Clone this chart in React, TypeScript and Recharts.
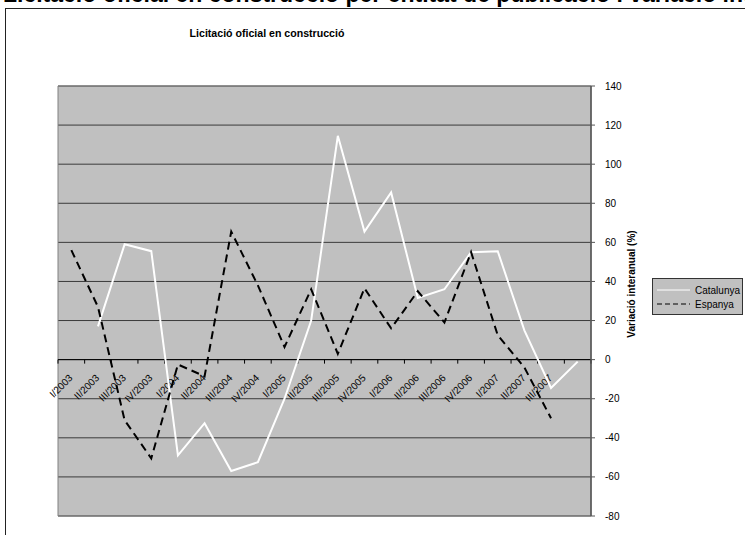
import React from 'react';
import { LineChart, Line, XAxis, YAxis, CartesianGrid, ReferenceLine, ReferenceArea } from 'recharts';

// trimestres (l'últim sense etiqueta a l'eix)
const quarters = [
  'I/2003', 'II/2003', 'III/2003', 'IV/2003',
  'I/2004', 'II/2004', 'III/2004', 'IV/2004',
  'I/2005', 'II/2005', 'III/2005', 'IV/2005',
  'I/2006', 'II/2006', 'III/2006', 'IV/2006',
  'I/2007', 'II/2007', 'III/2007', 'IV/2007',
];
const tickLabels = [
  'I/2003', 'II/2003', 'III/2003', 'IV/2003',
  'I/2004', 'II/2004', 'III/2004', 'IV/2004',
  'I/2005', 'II/2005', 'III/2005', 'IV/2005',
  'I/2006', 'II/2006', 'III/2006', 'IV/2006',
  'I/2007', 'II/2007', 'III/2007', '',
];

const catalunya = [null, 17, 59, 55.5, -49, -32.5, -57, -52.5, -20, 20, 114.5, 65.5, 85.5, 31.5, 36, 55, 55.5, 15, -14.5, -1];
const espanya = [56, 27, -31, -50.5, -2.5, -8.5, 65.5, 38, 6.5, 36, 3, 36.5, 16, 35, 19, 55, 12.5, -4, -30, null];

const yTicks = [-80, -60, -40, -20, 0, 20, 40, 60, 80, 100, 120, 140];

const pageTitle = 'Licitació oficial en construcció per entitat de publicació i variació interanual';
const chartTitle = 'Licitació oficial en construcció';
const yTitle = 'Variació interanual (%)';
const seriesNames = ['Catalunya', 'Espanya'];

const data = quarters.map((q, i) => ({ q, cat: catalunya[i], esp: espanya[i] }));

const FONT = '"Liberation Sans", Arial, Helvetica, sans-serif';

// eix de categories dibuixat sobre la línia del zero
const ZeroAxis = (props: any) => {
  const left = Math.min(props.x1, props.x2);
  const right = Math.max(props.x1, props.x2);
  const y0 = props.y1;
  const n = quarters.length;
  const step = (right - left) / n;
  return (
    <g>
      <line x1={left} y1={y0} x2={right} y2={y0} stroke="#000" strokeWidth={1} />
      {Array.from({ length: n + 1 }).map((_, i) => (
        <line key={'t' + i} x1={left + i * step} x2={left + i * step} y1={y0} y2={y0 + 4} stroke="#000" />
      ))}
      {tickLabels.map((lab, i) => {
        const cx = left + (i + 0.5) * step + 2;
        const ty = y0 + 19;
        return (
          <text key={'l' + i} x={cx} y={ty} textAnchor="end" transform={`rotate(-45 ${cx} ${ty})`}
            fontSize={10} fill="#000" fontFamily={FONT}>
            {lab}
          </text>
        );
      })}
    </g>
  );
};

const YTitle = (props: any) => {
  const { viewBox } = props;
  const cx = viewBox.x + 44;
  const cy = viewBox.y + viewBox.height / 2 - 17;
  return (
    <text x={cx} y={cy} transform={`rotate(-90 ${cx} ${cy})`} textAnchor="middle"
      fontSize={10} fontWeight="bold" fill="#000" fontFamily={FONT}>
      {yTitle}
    </text>
  );
};

export default function App() {
  return (
    <div style={{ position: 'fixed', left: 0, top: 0, width: 745, height: 535, overflow: 'hidden', background: '#fff', fontFamily: FONT }}>
      <div style={{ position: 'absolute', left: 5, top: 8, width: 780, height: 560, border: '1px solid #222', background: '#fff' }} />
      <div style={{ position: 'absolute', left: 0, top: 0 }}>
        <LineChart width={745} height={535} data={data} margin={{ top: 86, right: 94, bottom: 19, left: 58 }}>
          <CartesianGrid vertical={false} stroke="#3a3a3a" fill="#c0c0c0" fillOpacity={1} />
          <ReferenceArea y1={-80} y2={140} fill="none" stroke="#808080" strokeWidth={1} ifOverflow="extendDomain" />
          <XAxis dataKey="q" scale="band" hide />
          <YAxis orientation="right" domain={[-80, 140]} ticks={yTicks} width={60} allowDataOverflow
            tickSize={4} tickMargin={10} interval={0}
            axisLine={{ stroke: '#555', strokeWidth: 1.5 }} tickLine={{ stroke: '#555' }}
            tick={{ fontSize: 10, fill: '#000', fontFamily: FONT }}
            label={<YTitle />} />
          <ReferenceLine y={0} shape={<ZeroAxis />} />
          <Line type="linear" dataKey="cat" name={seriesNames[0]} stroke="#fff" strokeWidth={2} dot={false} isAnimationActive={false} />
          <Line type="linear" dataKey="esp" name={seriesNames[1]} stroke="#000" strokeWidth={2} strokeDasharray="8 5" dot={false} isAnimationActive={false} />
        </LineChart>
      </div>
      <svg width={745} height={60} style={{ position: 'absolute', left: 0, top: 0, pointerEvents: 'none' }}>
        <text x={3} y={1.5} fontSize={23} fontWeight="bold" fill="#000" fontFamily={FONT}>{pageTitle}</text>
        <text x={267} y={37} textAnchor="middle" fontSize={10.6} fontWeight="bold" fill="#000" fontFamily={FONT}>{chartTitle}</text>
      </svg>
      <div style={{ position: 'absolute', left: 652, top: 278, width: 91, height: 37, background: '#c0c0c0', border: '1px solid #333', boxSizing: 'border-box' }}>
        <svg width={91} height={37} style={{ position: 'absolute', left: -1, top: -1 }}>
          <line x1={5} x2={38} y1={12} y2={12} stroke="#fff" strokeWidth={1} />
          <text x={43} y={15.5} fontSize={10} fill="#000" fontFamily={FONT}>{seriesNames[0]}</text>
          <line x1={5} x2={38} y1={26} y2={26} stroke="#000" strokeWidth={1} strokeDasharray="5 3" />
          <text x={43} y={29.5} fontSize={10} fill="#000" fontFamily={FONT}>{seriesNames[1]}</text>
        </svg>
      </div>
    </div>
  );
}
